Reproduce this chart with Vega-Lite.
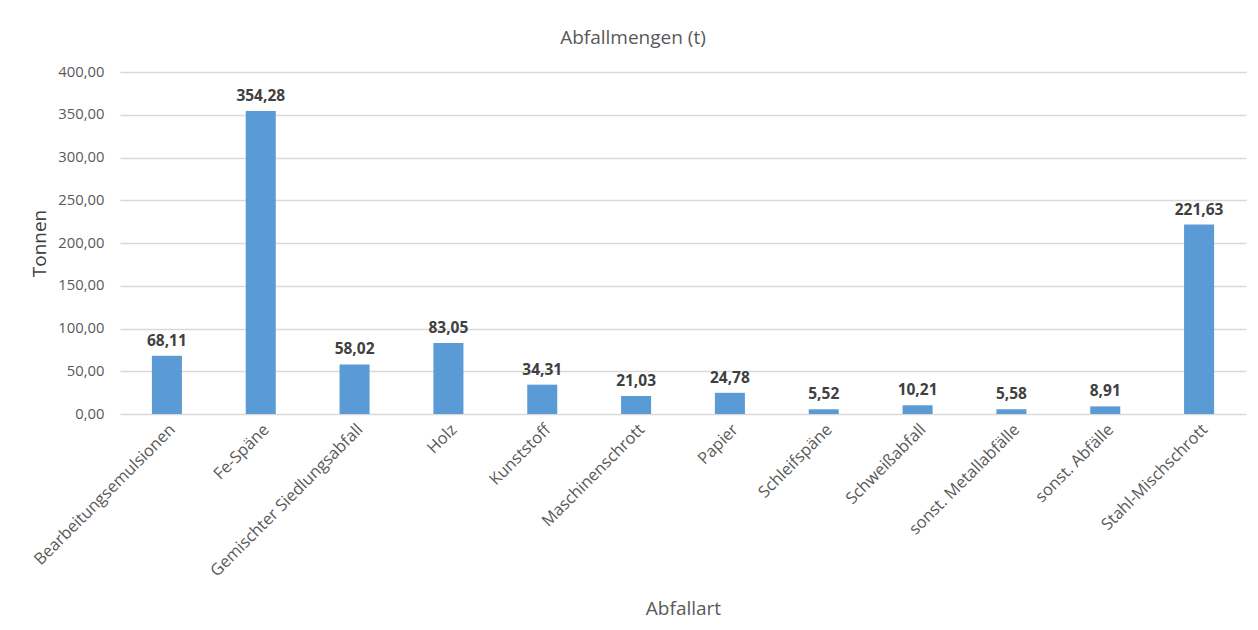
{
  "$schema": "https://vega.github.io/schema/vega-lite/v6.json",
  "autosize": "none",
  "width": 1126,
  "height": 342,
  "padding": {"left": 120, "top": 72, "right": 12, "bottom": 216},
  "background": "white",
  "config": {
    "locale": {"number": {"decimal": ",", "thousands": ".", "grouping": [3], "currency": ["", " €"]}},
    "font": "Open Sans",
    "view": {"stroke": null}
  },
  "title": {
    "text": "Abfallmengen (t)",
    "fontSize": 19,
    "fontWeight": "normal",
    "color": "#595959",
    "font": "Open Sans",
    "offset": 16,
    "dx": -50
  },
  "data": {
    "values": [
      {"Abfallart": "Bearbeitungsemulsionen", "Tonnen": 68.11},
      {"Abfallart": "Fe-Späne", "Tonnen": 354.28},
      {"Abfallart": "Gemischter Siedlungsabfall", "Tonnen": 58.02},
      {"Abfallart": "Holz", "Tonnen": 83.05},
      {"Abfallart": "Kunststoff", "Tonnen": 34.31},
      {"Abfallart": "Maschinenschrott", "Tonnen": 21.03},
      {"Abfallart": "Papier", "Tonnen": 24.78},
      {"Abfallart": "Schleifspäne", "Tonnen": 5.52},
      {"Abfallart": "Schweißabfall", "Tonnen": 10.21},
      {"Abfallart": "sonst. Metallabfälle", "Tonnen": 5.58},
      {"Abfallart": "sonst. Abfälle", "Tonnen": 8.91},
      {"Abfallart": "Stahl-Mischschrott", "Tonnen": 221.63}
    ]
  },
  "encoding": {
    "x": {
      "field": "Abfallart",
      "type": "nominal",
      "sort": null,
      "scale": {"paddingInner": 0.68, "paddingOuter": 0.34},
      "axis": {
        "title": "Abfallart",
        "titleFontSize": 19,
        "titleFontWeight": "normal",
        "titleColor": "#595959",
        "titlePadding": 20,
        "labelAngle": -45,
        "labelFontSize": 16.4,
        "labelLimit": 0,
        "labelColor": "#595959",
        "labelPadding": 7,
        "ticks": false,
        "domain": false,
        "grid": false
      }
    },
    "y": {
      "field": "Tonnen",
      "type": "quantitative",
      "scale": {"domain": [0, 400], "nice": false},
      "axis": {
        "title": "Tonnen",
        "titleFontSize": 19,
        "titleFontWeight": "normal",
        "titleColor": "#404040",
        "titlePadding": 8,
        "format": ".2f",
        "values": [0, 50, 100, 150, 200, 250, 300, 350, 400],
        "labelFontSize": 14.8,
        "labelColor": "#595959",
        "labelPadding": 16,
        "ticks": false,
        "domain": false,
        "grid": true,
        "gridColor": "#d9d9d9",
        "gridWidth": 1.3
      }
    }
  },
  "layer": [
    {"mark": {"type": "bar", "color": "#5b9bd5"}},
    {
      "mark": {"type": "text", "dy": -15, "fontSize": 15.5, "fontWeight": "bold", "color": "#404040", "font": "Open Sans"},
      "encoding": {"text": {"field": "Tonnen", "type": "quantitative", "format": ".2f"}}
    }
  ]
}
